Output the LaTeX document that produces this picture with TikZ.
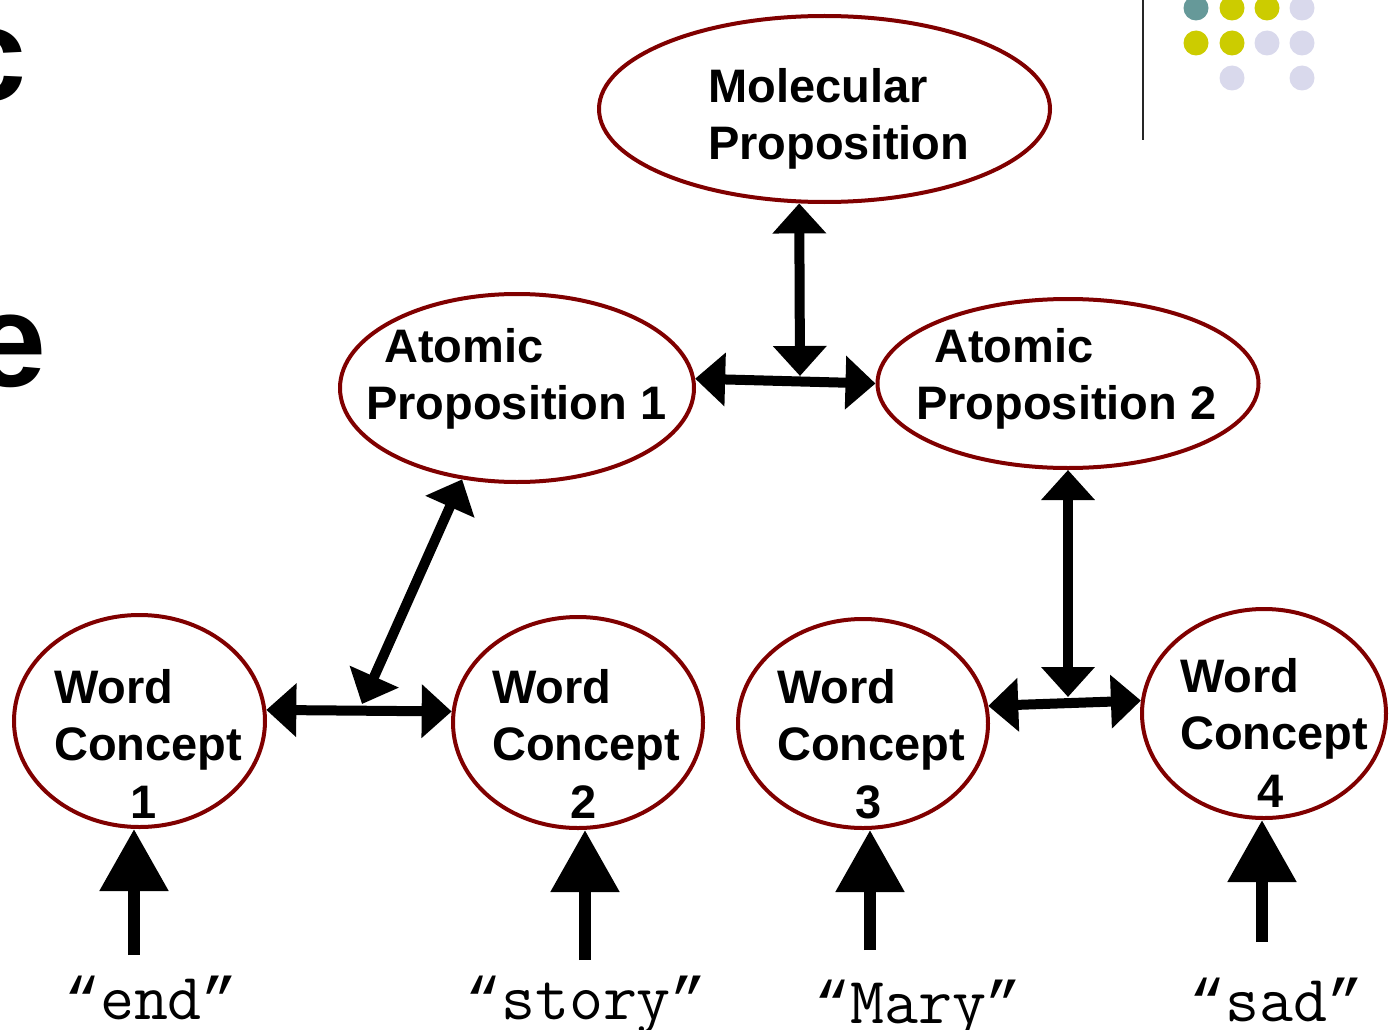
\documentclass[tikz,border=0pt]{standalone}
\usepackage{fontspec}
\setmainfont{Liberation Sans}
\newfontfamily\quotefont{Liberation Mono}
\newcommand{\myopenq}{{\quotefont\fontsize{60}{60}\selectfont “}}
\newcommand{\mycloseq}{{\quotefont\fontsize{60}{60}\selectfont ”}}
\usetikzlibrary{arrows.meta,shapes.geometric}
\definecolor{ellred}{HTML}{800000}
\definecolor{dotteal}{HTML}{669999}
\definecolor{dotyel}{HTML}{CCCC00}
\definecolor{dotlav}{HTML}{D9D9EC}
\tikzset{
  ell/.style={ellipse, draw=ellred, line width=4pt, inner sep=0pt},
  lbl/.style={font=\fontsize{47}{57.5}\selectfont\bfseries, align=left, inner sep=0pt, anchor=base west},
  wlbl/.style={font=\fontsize{66}{66}\selectfont\ttfamily, inner sep=0pt, anchor=base},
  dbl/.style={line width=10pt, {Triangle[length=30pt,width=52pt]}-{Triangle[length=30pt,width=52pt]}},
  uparr/.style={line width=12pt, -{Triangle[length=62pt,width=66pt]}},
  big/.style={font=\fontsize{133}{133}\selectfont\bfseries, inner sep=0pt, anchor=base east},
}
\begin{document}
\begin{tikzpicture}[x=1pt,y=-1pt]
\useasboundingbox (0,0) rectangle (1389,1030);
% slide decorations
\node[big] (tc) at (27,101) {c};
\node[big] (te) at (46.5,386) {e};
\draw[line width=2pt, black!85] (1143,0) -- (1143,140);
\foreach \x/\y/\c in {1196/8/dotteal, 1232/8/dotyel, 1267/8/dotyel, 1302/8/dotlav,
                      1196/43/dotyel, 1232/43/dotyel, 1267/43/dotlav, 1302/43/dotlav,
                      1232/78/dotlav, 1302/78/dotlav}
  \fill[\c] (\x,\y) circle (12.5);
% ellipses
\node[ell, minimum width=451pt, minimum height=186pt] (mol) at (824.5,109) {};
\node[ell, minimum width=354pt, minimum height=188pt] (a1) at (517,388) {};
\node[ell, minimum width=381pt, minimum height=169pt] (a2) at (1068,383.5) {};
\node[ell, minimum width=251pt, minimum height=212pt] (w1) at (139.5,721) {};
\node[ell, minimum width=250pt, minimum height=211pt] (w2) at (578,722.5) {};
\node[ell, minimum width=250pt, minimum height=209pt] (w3) at (863,723.5) {};
\node[ell, minimum width=244pt, minimum height=209pt] (w4) at (1264,713.5) {};
% labels (anchored at the baseline of the last line)
\node[lbl] (molt) at (708,159.5) {Molecular\\Proposition};
\node[lbl] (a1t) at (366,419.5) {\hspace*{18pt}Atomic\\Proposition 1};
\node[lbl] (a2t) at (916,419.5) {\hspace*{18pt}Atomic\\Proposition 2};
\node[lbl] (w1t) at (54,818) {Word\\Concept\\\hspace*{76pt}1};
\node[lbl] (w2t) at (492,818) {Word\\Concept\\\hspace*{78pt}2};
\node[lbl] (w3t) at (777,818) {Word\\Concept\\\hspace*{78pt}3};
\node[lbl] (w4t) at (1180,807) {Word\\Concept\\\hspace*{77pt}4};
\node[wlbl] (t1) at (151,1019) {\myopenq end\mycloseq};
\node[wlbl] (t2) at (586,1019) {\myopenq story\mycloseq};
\node[wlbl] (t3) at (918,1023) {\myopenq Mary\mycloseq};
\node[wlbl] (t4) at (1276,1021) {\myopenq sad\mycloseq};
% junctions
\coordinate (j1) at (362,704);
\coordinate (j2) at (800,376);
\coordinate (j3) at (1068,697);
% double arrows
\draw[dbl] (w1.5) -- (w2.175);
\draw[dbl] (a1.239) -- (j1);
\draw[dbl] (a1.3) -- (a2.180);
\draw[dbl] (mol.255) -- (j2);
\draw[dbl] (a2.south) -- (j3);
\draw[dbl] (w3.8) -- (w4.174);
% input arrows
\coordinate (s1) at (134,955);
\coordinate (s2) at (585,960);
\coordinate (s3) at (870,950);
\coordinate (s4) at (1262,942);
\draw[uparr] (s1) -- (s1 |- w1.south);
\draw[uparr] (s2) -- (s2 |- w2.south);
\draw[uparr] (s3) -- (s3 |- w3.south);
\draw[uparr] (s4) -- (s4 |- w4.south);
\end{tikzpicture}
\end{document}
